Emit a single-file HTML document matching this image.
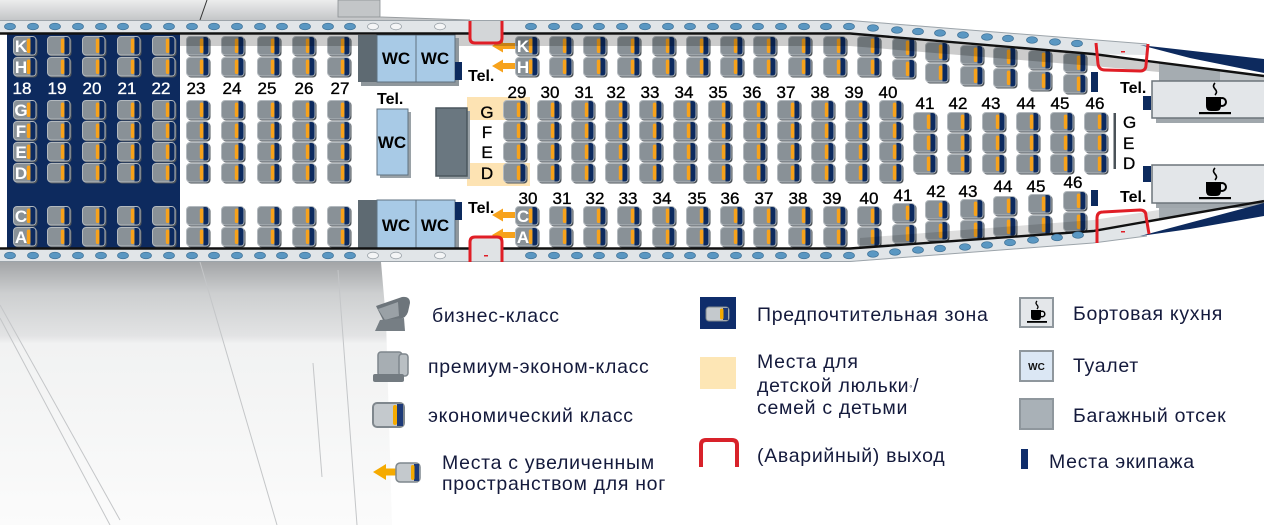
<!DOCTYPE html>
<html><head><meta charset="utf-8"><style>
html,body{margin:0;padding:0;background:#fff;}
svg{display:block;}
text{font-family:"Liberation Sans",Arial,sans-serif;}
.lg{font-size:19.5px;letter-spacing:0.7px;fill:#141a3c;}
.num{font-size:17px;text-anchor:middle;fill:#000;stroke:#000;stroke-width:0.35;}
.wn{font-size:17px;text-anchor:middle;fill:#fff;stroke:#fff;stroke-width:0.35;}
.let{font-size:17px;font-weight:bold;text-anchor:middle;fill:#fff;}
.blet{font-size:17px;text-anchor:middle;fill:#000;stroke:#000;stroke-width:0.35;}
.tel{font-size:16px;font-weight:bold;fill:#000;}
.wc{font-size:17px;font-weight:bold;text-anchor:middle;fill:#000;}
</style></head><body>
<svg width="1264" height="525" viewBox="0 0 1264 525" xmlns="http://www.w3.org/2000/svg">
<defs>
 <linearGradient id="gTop" x1="0" y1="0" x2="0" y2="1">
  <stop offset="0" stop-color="#eceded"/><stop offset="1" stop-color="#c4c6c8"/>
 </linearGradient>
 <linearGradient id="gBot" gradientUnits="userSpaceOnUse" x1="0" y1="262" x2="0" y2="525">
  <stop offset="0" stop-color="#a3a5a7"/>
  <stop offset="0.12" stop-color="#cdcfd0"/>
  <stop offset="0.28" stop-color="#e2e3e4"/>
  <stop offset="0.31" stop-color="#f1f2f2"/>
  <stop offset="1" stop-color="#fbfbfb"/>
 </linearGradient>
 <g id="s">
  <rect x="1.5" y="1.5" width="23" height="19" rx="3.5" fill="#4d545a"/>
  <rect x="0.5" y="0.5" width="22.5" height="18.5" rx="3.5" fill="#899197" stroke="#b3b9be"/>
  <path d="M17.5 1H19.5Q22.5 1 22.5 4V15.5Q22.5 18.5 19.5 18.5H17.5Z" fill="#0c2a5f"/>
  <rect x="13.8" y="2.5" width="3.6" height="14.5" rx="1.8" fill="#f7a21b"/>
 </g>
 <g id="col8">
  <use href="#s" y="36"/><use href="#s" y="57"/>
  <use href="#s" y="100"/><use href="#s" y="121"/><use href="#s" y="142"/><use href="#s" y="163"/>
  <use href="#s" y="206"/><use href="#s" y="227"/>
 </g>
 <g id="col4">
  <use href="#s" y="100"/><use href="#s" y="121"/><use href="#s" y="142"/><use href="#s" y="163"/>
 </g>
 <g id="pair"><use href="#s" y="0"/><use href="#s" y="21"/></g>
 <g id="col3"><use href="#s" y="0"/><use href="#s" y="21"/><use href="#s" y="42"/></g>
</defs>

<!-- background pieces -->
<polygon points="0,0 338,0 338,17 380,17 470,20 0,20" fill="url(#gTop)"/>
<line x1="207" y1="0" x2="200" y2="20" stroke="#333" stroke-width="1"/>
<rect x="338" y="0" width="42" height="17" fill="#c3c6c8" stroke="#8a8f93" stroke-width="0.8"/>
<line x1="380" y1="17" x2="470" y2="20" stroke="#9a9ea1" stroke-width="1"/>
<polygon points="0,262 381,262 386,320 392,525 0,525" fill="url(#gBot)"/>
<g stroke="#c4c6c8" stroke-width="1" fill="none">
 <line x1="200" y1="262" x2="277" y2="525"/>
 <line x1="0" y1="305" x2="120" y2="520"/>
 <line x1="0" y1="318" x2="110" y2="525"/>
 <line x1="338" y1="270" x2="357" y2="525"/>
 <line x1="313" y1="363" x2="322" y2="477"/>
</g>

<!-- left navy zone -->
<rect x="7" y="34" width="173" height="214" fill="#0d2a5e"/>

<!-- bassinet -->
<rect x="467" y="97" width="63" height="23" fill="#fde3b3"/>
<rect x="467" y="163" width="63" height="23" fill="#fde3b3"/>

<!-- arrows -->
<g fill="#f7a21b">
 <polygon points="492,46 503,39.5 503,43 517,43 517,49 503,49 503,52.5"/>
 <polygon points="492,66 503,59.5 503,63 517,63 517,69 503,69 503,72.5"/>
 <polygon points="492,215 503,208.5 503,212 517,212 517,218 503,218 503,221.5"/>
 <polygon points="492,235 503,228.5 503,232 517,232 517,238 503,238 503,241.5"/>
</g>

<!-- seats left -->
<use href="#col8" x="13"/><use href="#col8" x="47"/><use href="#col8" x="82"/><use href="#col8" x="117"/><use href="#col8" x="152"/>
<use href="#col8" x="186"/><use href="#col8" x="221"/><use href="#col8" x="257"/><use href="#col8" x="292"/><use href="#col8" x="327"/>

<!-- center 29-40 -->
<use href="#col4" x="503"/><use href="#col4" x="537"/><use href="#col4" x="571"/><use href="#col4" x="605"/>
<use href="#col4" x="639"/><use href="#col4" x="673"/><use href="#col4" x="708"/><use href="#col4" x="743"/>
<use href="#col4" x="777"/><use href="#col4" x="811"/><use href="#col4" x="845"/><use href="#col4" x="879"/>

<!-- center 41-46 -->
<use href="#col3" x="913" y="112"/><use href="#col3" x="947" y="112"/><use href="#col3" x="982" y="112"/>
<use href="#col3" x="1016" y="112"/><use href="#col3" x="1050" y="112"/><use href="#col3" x="1084" y="112"/>

<!-- top K/H -->
<use href="#pair" x="515" y="36"/><use href="#pair" x="549" y="36"/><use href="#pair" x="583" y="36"/><use href="#pair" x="617" y="36"/>
<use href="#pair" x="652" y="36"/><use href="#pair" x="686" y="36"/><use href="#pair" x="720" y="36"/><use href="#pair" x="753" y="36"/>
<use href="#pair" x="788" y="36"/><use href="#pair" x="823" y="36"/><use href="#pair" x="857" y="36"/><use href="#pair" x="892" y="38"/>
<use href="#pair" x="925" y="42"/><use href="#pair" x="960" y="45"/><use href="#pair" x="993" y="47"/><use href="#pair" x="1028" y="50"/>
<use href="#pair" x="1063" y="53"/>

<!-- bottom C/A -->
<use href="#pair" x="515" y="206"/><use href="#pair" x="549" y="206"/><use href="#pair" x="583" y="206"/><use href="#pair" x="617" y="206"/>
<use href="#pair" x="652" y="206"/><use href="#pair" x="686" y="206"/><use href="#pair" x="720" y="206"/><use href="#pair" x="753" y="206"/>
<use href="#pair" x="788" y="206"/><use href="#pair" x="823" y="206"/><use href="#pair" x="857" y="206"/><use href="#pair" x="892" y="203"/>
<use href="#pair" x="925" y="200"/><use href="#pair" x="960" y="199"/><use href="#pair" x="993" y="196"/><use href="#pair" x="1028" y="194"/>
<use href="#pair" x="1063" y="191"/>

<!-- shading bands -->
<polygon points="180,34.7 850,34.7 1093,55.2 1159,63.5 1159,72 1093,66 850,46 180,46" fill="#000" opacity="0.2"/>
<polygon points="860,247.4 1093,229.8 1159,218.5 1159,210 1093,220 860,238" fill="#000" opacity="0.13"/>

<!-- WC blocks -->
<rect x="361" y="38" width="98" height="48" fill="#8f979c"/>
<rect x="358" y="35" width="19" height="47" fill="#5e6a72"/>
<rect x="377" y="35" width="39" height="47" fill="#a8cae6" stroke="#5f7180"/>
<rect x="416" y="35" width="39" height="47" fill="#a8cae6" stroke="#5f7180"/>
<rect x="361" y="203" width="98" height="45" fill="#8f979c"/>
<rect x="358" y="200" width="19" height="48" fill="#5e6a72"/>
<rect x="377" y="200" width="39" height="48" fill="#a8cae6" stroke="#5f7180"/>
<rect x="416" y="200" width="39" height="48" fill="#a8cae6" stroke="#5f7180"/>
<rect x="380" y="112" width="31" height="66" fill="#9aa2a7"/>
<rect x="377" y="109" width="31" height="66" fill="#a8cae6" stroke="#5f7180"/>
<rect x="439" y="111" width="31" height="68" fill="#9aa2a7"/>
<rect x="436" y="108" width="31" height="68" fill="#6a7780" stroke="#4b575e" stroke-width="1.5"/>

<!-- galleys -->
<polygon points="1159,62.5 1220,70.5 1220,81 1159,81" fill="#a5acb1"/>
<polygon points="1220,70.5 1264,76 1264,81 1220,81" fill="#c2c7ca"/>
<polygon points="1159,219.5 1220,209 1220,203 1159,203" fill="#a5acb1"/>
<polygon points="1220,209 1264,201 1264,203 1220,203" fill="#c2c7ca"/>
<rect x="1156" y="117" width="108" height="6" fill="#a0a7ac"/>
<rect x="1152" y="81" width="114" height="37" fill="#e3e6e9" stroke="#6d757b" stroke-width="1.5"/>
<rect x="1156" y="203" width="108" height="5" fill="#a0a7ac"/>
<rect x="1152" y="165" width="114" height="38" fill="#e3e6e9" stroke="#6d757b" stroke-width="1.5"/>
<g id="cup1">
 <path d="M1215,83 q-3,3 0,6 q3,3 0,6" stroke="#000" stroke-width="1.6" fill="none"/>
 <path d="M1206,97H1221V106Q1221,111 1216,111H1211Q1206,111 1206,106Z" fill="#000"/>
 <circle cx="1222" cy="102" r="4" stroke="#000" stroke-width="2" fill="none"/>
 <rect x="1199" y="112" width="32" height="2.2" fill="#000"/>
</g>
<g transform="translate(0,85)">
 <path d="M1215,83 q-3,3 0,6 q3,3 0,6" stroke="#000" stroke-width="1.6" fill="none"/>
 <path d="M1206,97H1221V106Q1221,111 1216,111H1211Q1206,111 1206,106Z" fill="#000"/>
 <circle cx="1222" cy="102" r="4" stroke="#000" stroke-width="2" fill="none"/>
 <rect x="1199" y="112" width="32" height="2.2" fill="#000"/>
</g>

<!-- crew seats -->
<g fill="#0c2a5e">
 <rect x="455" y="62" width="7" height="18"/>
 <rect x="455" y="202" width="7" height="18"/>
 <rect x="1091" y="72" width="7" height="20"/>
 <rect x="1091" y="190" width="7" height="16"/>
 <rect x="1143" y="96" width="8" height="14"/>
 <rect x="1143" y="166" width="8" height="16"/>
</g>
<rect x="1113.5" y="113" width="2.5" height="56" fill="#4a5258"/>

<!-- window strips -->
<polygon points="0,20 850,20 1147,44 1147,55 1093,54 850,33.5 0,33.5" fill="#e1e5e8"/>
<polyline points="0,20.5 850,20.5 1147,44" stroke="#9ca4aa" fill="none"/>
<polygon points="0,248.5 850,248.5 1093,231 1147,222 1147,236 1093,243 850,262 0,262" fill="#e1e5e8"/>
<polyline points="0,261.5 850,261.5 1093,243 1147,236" stroke="#9ca4aa" fill="none"/>
<polygon points="1140,45 1264,59 1264,73 1190,58" fill="#0d2a5e"/>
<polygon points="1140,236 1264,203 1264,216 1190,229" fill="#0d2a5e"/>
<polyline points="0,33.5 850,33.5 1093,54 1264,76" stroke="#111" stroke-width="2.4" fill="none"/>
<polyline points="0,248.5 850,248.5 1093,231 1264,201" stroke="#111" stroke-width="2.4" fill="none"/>

<g fill="#5a97c2" stroke="#3f7196" stroke-width="0.7">
 <ellipse cx="10" cy="26.5" rx="5.5" ry="3.3"/><ellipse cx="33" cy="26.5" rx="5.5" ry="3.3"/><ellipse cx="55" cy="26.5" rx="5.5" ry="3.3"/><ellipse cx="78" cy="26.5" rx="5.5" ry="3.3"/>
 <ellipse cx="101" cy="26.5" rx="5.5" ry="3.3"/><ellipse cx="123" cy="26.5" rx="5.5" ry="3.3"/><ellipse cx="146" cy="26.5" rx="5.5" ry="3.3"/><ellipse cx="169" cy="26.5" rx="5.5" ry="3.3"/>
 <ellipse cx="192" cy="26.5" rx="5.5" ry="3.3"/><ellipse cx="214" cy="26.5" rx="5.5" ry="3.3"/><ellipse cx="237" cy="26.5" rx="5.5" ry="3.3"/><ellipse cx="260" cy="26.5" rx="5.5" ry="3.3"/>
 <ellipse cx="282" cy="26.5" rx="5.5" ry="3.3"/><ellipse cx="305" cy="26.5" rx="5.5" ry="3.3"/><ellipse cx="328" cy="26.5" rx="5.5" ry="3.3"/><ellipse cx="350" cy="26.5" rx="5.5" ry="3.3"/>
 <ellipse cx="531" cy="26.5" rx="5.5" ry="3.3"/><ellipse cx="554" cy="26.5" rx="5.5" ry="3.3"/><ellipse cx="577" cy="26.5" rx="5.5" ry="3.3"/><ellipse cx="599" cy="26.5" rx="5.5" ry="3.3"/>
 <ellipse cx="622" cy="26.5" rx="5.5" ry="3.3"/><ellipse cx="645" cy="26.5" rx="5.5" ry="3.3"/><ellipse cx="668" cy="26.5" rx="5.5" ry="3.3"/><ellipse cx="690" cy="26.5" rx="5.5" ry="3.3"/>
 <ellipse cx="713" cy="26.5" rx="5.5" ry="3.3"/><ellipse cx="736" cy="26.5" rx="5.5" ry="3.3"/><ellipse cx="758" cy="26.5" rx="5.5" ry="3.3"/><ellipse cx="781" cy="26.5" rx="5.5" ry="3.3"/>
 <ellipse cx="804" cy="26.5" rx="5.5" ry="3.3"/><ellipse cx="826" cy="26.5" rx="5.5" ry="3.3"/><ellipse cx="849" cy="26.5" rx="5.5" ry="3.3"/>
 <ellipse cx="873" cy="28" rx="5.5" ry="3.3"/><ellipse cx="897" cy="30" rx="5.5" ry="3.3"/><ellipse cx="918" cy="31.5" rx="5.5" ry="3.3"/><ellipse cx="940" cy="33" rx="5.5" ry="3.3"/>
 <ellipse cx="963" cy="35" rx="5.5" ry="3.3"/><ellipse cx="987" cy="37" rx="5.5" ry="3.3"/><ellipse cx="1008" cy="38.5" rx="5.5" ry="3.3"/><ellipse cx="1032" cy="40" rx="5.5" ry="3.3"/>
 <ellipse cx="1055" cy="42" rx="5.5" ry="3.3"/><ellipse cx="1077" cy="43.5" rx="5.5" ry="3.3"/>

 <ellipse cx="10" cy="255.5" rx="5.5" ry="3.3"/><ellipse cx="33" cy="255.5" rx="5.5" ry="3.3"/><ellipse cx="55" cy="255.5" rx="5.5" ry="3.3"/><ellipse cx="78" cy="255.5" rx="5.5" ry="3.3"/>
 <ellipse cx="101" cy="255.5" rx="5.5" ry="3.3"/><ellipse cx="123" cy="255.5" rx="5.5" ry="3.3"/><ellipse cx="146" cy="255.5" rx="5.5" ry="3.3"/><ellipse cx="169" cy="255.5" rx="5.5" ry="3.3"/>
 <ellipse cx="192" cy="255.5" rx="5.5" ry="3.3"/><ellipse cx="214" cy="255.5" rx="5.5" ry="3.3"/><ellipse cx="237" cy="255.5" rx="5.5" ry="3.3"/><ellipse cx="260" cy="255.5" rx="5.5" ry="3.3"/>
 <ellipse cx="282" cy="255.5" rx="5.5" ry="3.3"/><ellipse cx="305" cy="255.5" rx="5.5" ry="3.3"/><ellipse cx="328" cy="255.5" rx="5.5" ry="3.3"/><ellipse cx="350" cy="255.5" rx="5.5" ry="3.3"/>
 <ellipse cx="531" cy="255.5" rx="5.5" ry="3.3"/><ellipse cx="554" cy="255.5" rx="5.5" ry="3.3"/><ellipse cx="577" cy="255.5" rx="5.5" ry="3.3"/><ellipse cx="599" cy="255.5" rx="5.5" ry="3.3"/>
 <ellipse cx="622" cy="255.5" rx="5.5" ry="3.3"/><ellipse cx="645" cy="255.5" rx="5.5" ry="3.3"/><ellipse cx="668" cy="255.5" rx="5.5" ry="3.3"/><ellipse cx="690" cy="255.5" rx="5.5" ry="3.3"/>
 <ellipse cx="713" cy="255.5" rx="5.5" ry="3.3"/><ellipse cx="736" cy="255.5" rx="5.5" ry="3.3"/><ellipse cx="758" cy="255.5" rx="5.5" ry="3.3"/><ellipse cx="781" cy="255.5" rx="5.5" ry="3.3"/>
 <ellipse cx="804" cy="255.5" rx="5.5" ry="3.3"/><ellipse cx="826" cy="255.5" rx="5.5" ry="3.3"/><ellipse cx="849" cy="255.5" rx="5.5" ry="3.3"/>
 <ellipse cx="873" cy="254" rx="5.5" ry="3.3"/><ellipse cx="895" cy="252" rx="5.5" ry="3.3"/><ellipse cx="918" cy="250" rx="5.5" ry="3.3"/><ellipse cx="940" cy="248.5" rx="5.5" ry="3.3"/>
 <ellipse cx="965" cy="247" rx="5.5" ry="3.3"/><ellipse cx="987" cy="245" rx="5.5" ry="3.3"/><ellipse cx="1010" cy="242.5" rx="5.5" ry="3.3"/><ellipse cx="1033" cy="240" rx="5.5" ry="3.3"/>
 <ellipse cx="1057" cy="237.5" rx="5.5" ry="3.3"/><ellipse cx="1078" cy="235" rx="5.5" ry="3.3"/>
</g>
<g fill="#f4f5f6" stroke="#9ca4aa" stroke-width="0.8">
 <ellipse cx="373" cy="26.5" rx="5.5" ry="3.3"/><ellipse cx="396" cy="26.5" rx="5.5" ry="3.3"/><ellipse cx="440" cy="26.5" rx="5.5" ry="3.3"/>
 <ellipse cx="373" cy="255.5" rx="5.5" ry="3.3"/><ellipse cx="396" cy="255.5" rx="5.5" ry="3.3"/><ellipse cx="440" cy="255.5" rx="5.5" ry="3.3"/>
</g>

<!-- exits -->
<rect x="471" y="21" width="30" height="21" fill="#d3d6d8"/>
<rect x="471" y="238" width="30" height="23" fill="#e0e3e5"/>
<g stroke="#e01e26" stroke-width="3" fill="none">
 <path d="M470,21V38Q470,43 475,43H497Q502,43 502,38V21"/>
 <path d="M470,262V242Q470,237 475,237H497Q502,237 502,242V262"/>
 <path d="M1096,43L1098,64Q1099,70 1105,70L1140,71Q1146,71 1146,65L1148,44"/>
 <path d="M1097,243L1097,218Q1097,212 1103,212L1140,210Q1146,210 1146,216L1149,234"/>
</g>
<g fill="#e01e26">
 <rect x="484" y="255" width="4" height="1.5"/>
 <rect x="1121" y="51" width="4" height="1.5"/>
 <rect x="1121" y="231" width="4" height="1.5"/>
</g>

<!-- seat letters -->
<text class="let" x="21" y="52">K</text><text class="let" x="21" y="73">H</text>
<text class="let" x="21" y="116">G</text><text class="let" x="21" y="137">F</text>
<text class="let" x="21" y="158">E</text><text class="let" x="21" y="179">D</text>
<text class="let" x="21" y="222">C</text><text class="let" x="21" y="243">A</text>
<text class="let" x="523" y="52">K</text><text class="let" x="523" y="73">H</text>
<text class="let" x="523" y="222">C</text><text class="let" x="523" y="243">A</text>
<text class="blet" x="487" y="118">G</text><text class="blet" x="487" y="138">F</text>
<text class="blet" x="487" y="158">E</text><text class="blet" x="487" y="179">D</text>
<text class="blet" x="1123" y="128" text-anchor="start" style="text-anchor:start">G</text>
<text class="blet" x="1123" y="149" style="text-anchor:start">E</text>
<text class="blet" x="1123" y="169" style="text-anchor:start">D</text>

<!-- row numbers -->
<text class="wn" x="22" y="94">18</text><text class="wn" x="57" y="94">19</text><text class="wn" x="92" y="94">20</text>
<text class="wn" x="127" y="94">21</text><text class="wn" x="161" y="94">22</text>
<text class="num" x="196" y="94">23</text><text class="num" x="232" y="94">24</text><text class="num" x="267" y="94">25</text>
<text class="num" x="304" y="94">26</text><text class="num" x="340" y="94">27</text>
<text class="num" x="517" y="98">29</text><text class="num" x="550" y="98">30</text><text class="num" x="584" y="98">31</text>
<text class="num" x="616" y="98">32</text><text class="num" x="650" y="98">33</text><text class="num" x="684" y="98">34</text>
<text class="num" x="718" y="98">35</text><text class="num" x="752" y="98">36</text><text class="num" x="786" y="98">37</text>
<text class="num" x="820" y="98">38</text><text class="num" x="854" y="98">39</text><text class="num" x="888" y="98">40</text>
<text class="num" x="925" y="109">41</text><text class="num" x="958" y="109">42</text><text class="num" x="991" y="109">43</text>
<text class="num" x="1026" y="109">44</text><text class="num" x="1060" y="109">45</text><text class="num" x="1095" y="109">46</text>
<text class="num" x="528" y="204">30</text><text class="num" x="562" y="204">31</text><text class="num" x="595" y="204">32</text>
<text class="num" x="628" y="204">33</text><text class="num" x="662" y="204">34</text><text class="num" x="697" y="204">35</text>
<text class="num" x="730" y="204">36</text><text class="num" x="764" y="204">37</text><text class="num" x="798" y="204">38</text>
<text class="num" x="832" y="204">39</text><text class="num" x="869" y="204">40</text><text class="num" x="903" y="201">41</text>
<text class="num" x="936" y="197">42</text><text class="num" x="968" y="197">43</text><text class="num" x="1003" y="192">44</text>
<text class="num" x="1036" y="192">45</text><text class="num" x="1073" y="188">46</text>

<!-- Tel / WC -->
<text class="tel" x="468" y="81">Tel.</text>
<text class="tel" x="377" y="104">Tel.</text>
<text class="tel" x="468" y="213">Tel.</text>
<text class="tel" x="1120" y="93">Tel.</text>
<text class="tel" x="1120" y="202">Tel.</text>
<text class="wc" x="396" y="64">WC</text><text class="wc" x="435" y="64">WC</text>
<text class="wc" x="396" y="231">WC</text><text class="wc" x="435" y="231">WC</text>
<text class="wc" x="392" y="148">WC</text>

<!-- legend icons -->
<path d="M376,306L402,297Q410,296 410,303L408,312Q406,318 400,319L384,322Z" fill="#6d757b"/>
<path d="M378,309L398,302L399,316L385,320Z" fill="#9aa1a6"/>
<path d="M375,331L380,320L404,318L405,331Z" fill="#767e84"/>

<rect x="378" y="352" width="24" height="24" rx="3" fill="#a7aeb3" stroke="#7e868c" stroke-width="1.5"/>
<rect x="399" y="354" width="9" height="22" rx="3" fill="#b9bfc3" stroke="#7e868c" stroke-width="1.5"/>
<rect x="373" y="374" width="31" height="8" rx="2" fill="#737b81"/>

<rect x="373" y="403" width="31" height="24" rx="4" fill="#c4c9cd" stroke="#7f878d" stroke-width="2"/>
<rect x="397" y="404" width="6" height="22" fill="#1d3a78"/>
<rect x="393" y="405" width="4" height="20" rx="2" fill="#f5aa00"/>

<polygon points="373,472 386,464 386,468.5 397,468.5 397,475.5 386,475.5 386,480" fill="#f5aa00"/>
<rect x="396" y="463" width="24" height="19" rx="4" fill="#c4c9cd" stroke="#7f878d" stroke-width="1.5"/>
<rect x="414" y="464" width="5" height="17" fill="#1d3a78"/>
<rect x="411" y="465" width="3.5" height="15" rx="1.7" fill="#f5aa00"/>

<rect x="700" y="297" width="36" height="32" fill="#0f2d6b"/>
<rect x="706" y="307" width="23" height="14" rx="3" fill="#c4c9cd" stroke="#7f878d"/>
<rect x="723" y="308" width="5" height="12" fill="#1d3a78"/>
<rect x="720" y="308.5" width="3.5" height="11" rx="1.7" fill="#f5aa00"/>

<rect x="700" y="357" width="36" height="32" fill="#fde6b5"/>
<path d="M701,467V445Q701,440 706,440H732Q737,440 737,445V467" stroke="#d8222a" stroke-width="4" fill="none"/>

<rect x="1020" y="298" width="33" height="29" fill="#e4e7ea" stroke="#8f979d" stroke-width="2"/>
<path d="M1037,301 q-2,2 0,4 q2,2 0,4" stroke="#000" stroke-width="1.3" fill="none"/>
<path d="M1031,310H1041V317Q1041,320 1038,320H1034Q1031,320 1031,317Z" fill="#000"/>
<circle cx="1042" cy="314" r="2.8" stroke="#000" stroke-width="1.5" fill="none"/>
<rect x="1027" y="321" width="20" height="1.8" fill="#000"/>

<rect x="1020" y="351" width="33" height="30" fill="#dbe7f4" stroke="#8f979d" stroke-width="2"/>
<text x="1036.5" y="370" style="font-size:10px;font-weight:bold;text-anchor:middle;fill:#111;">WC</text>
<rect x="1020" y="399" width="33" height="30" fill="#a9b1b7" stroke="#8f979d" stroke-width="2"/>
<rect x="1021" y="449" width="7" height="20" fill="#0f2d6b"/>

<!-- legend text -->
<text class="lg" x="432" y="322">бизнес-класс</text>
<text class="lg" x="428" y="373">премиум-эконом-класс</text>
<text class="lg" x="428" y="422">экономический класс</text>
<text class="lg" x="442" y="469">Места с увеличенным</text>
<text class="lg" x="442" y="490">пространством для ног</text>
<text class="lg" x="757" y="321">Предпочтительная зона</text>
<text class="lg" x="757" y="368">Места для</text>
<text class="lg" x="757" y="392">детской люльки<tspan style="font-size:9px" dy="-3">◦</tspan><tspan dy="3">/</tspan></text>
<text class="lg" x="757" y="414">семей с детьми</text>
<text class="lg" x="757" y="462">(Аварийный) выход</text>
<text class="lg" x="1073" y="320">Бортовая кухня</text>
<text class="lg" x="1073" y="372">Туалет</text>
<text class="lg" x="1073" y="422">Багажный отсек</text>
<text class="lg" x="1049" y="468">Места экипажа</text>
</svg>
</body></html>
